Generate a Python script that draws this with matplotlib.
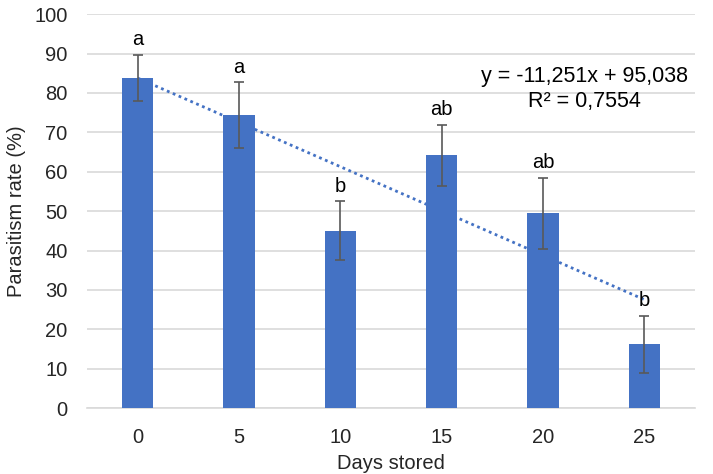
import matplotlib.pyplot as plt
import numpy as np

plt.rcParams['font.family'] = ['Liberation Sans', 'DejaVu Sans']

days = ["0", "5", "10", "15", "20", "25"]
parasitism = [83.8, 74.4, 45.0, 64.2, 49.5, 16.2]
errors = [5.9, 8.3, 7.5, 7.7, 9.0, 7.2]
letters = ["a", "a", "b", "ab", "ab", "b"]

# Excel linear trendline (x = category number 1..6)
slope = -11.251
intercept = 95.038
r_squared = 0.7554

fig = plt.figure(figsize=(7.13, 4.74), dpi=100)
ax = fig.add_axes([0.122, 0.139, 0.853, 0.831])

x = np.arange(len(days))
ax.bar(x, parasitism, width=0.31, color='#4472C4', zorder=3)
ax.errorbar(x, parasitism, yerr=errors, fmt='none', ecolor='#595959',
            elinewidth=1.2, capsize=3.5, capthick=1.2, zorder=4)

trend_x = x + 1
ax.plot(x, slope * trend_x + intercept, linestyle=(0, (1, 1.3)),
        color='#4472C4', linewidth=2, zorder=2)

for xi, v, e, lab in zip(x, parasitism, errors, letters):
    ax.annotate(lab, (xi, v + e), xytext=(0, 4), textcoords='offset points',
                ha='center', va='bottom', fontsize=14.5, color='black', zorder=5)

ax.text(4.41, 81.0, f"y = {slope:.3f}x + {intercept:.3f}\nR² = {r_squared:.4f}".replace('.', ','),
        ha='center', va='center', fontsize=15.5, linespacing=1.2, color='black')

ax.set_xlim(-0.5, 5.5)
ax.set_ylim(0, 100)
ax.set_yticks(range(0, 101, 10))
ax.set_xticks(x)
ax.set_xticklabels(days)
ax.tick_params(axis='both', length=0, labelsize=14.5, colors='#262626')
ax.tick_params(axis='y', pad=14)
ax.tick_params(axis='x', pad=14)

ax.yaxis.grid(True, color='#D9D9D9', linewidth=1.2, zorder=0)
ax.set_axisbelow(True)
for side in ['left', 'right', 'top']:
    ax.spines[side].set_visible(False)
ax.spines['bottom'].set_color('#D9D9D9')
ax.spines['bottom'].set_linewidth(1.2)

ax.set_xlabel('Days stored', fontsize=14.5, color='#262626', labelpad=5)
ax.set_ylabel('Parasitism rate (%)', fontsize=14.5, color='#262626', labelpad=6)

fig.savefig('out.png', dpi=100)
